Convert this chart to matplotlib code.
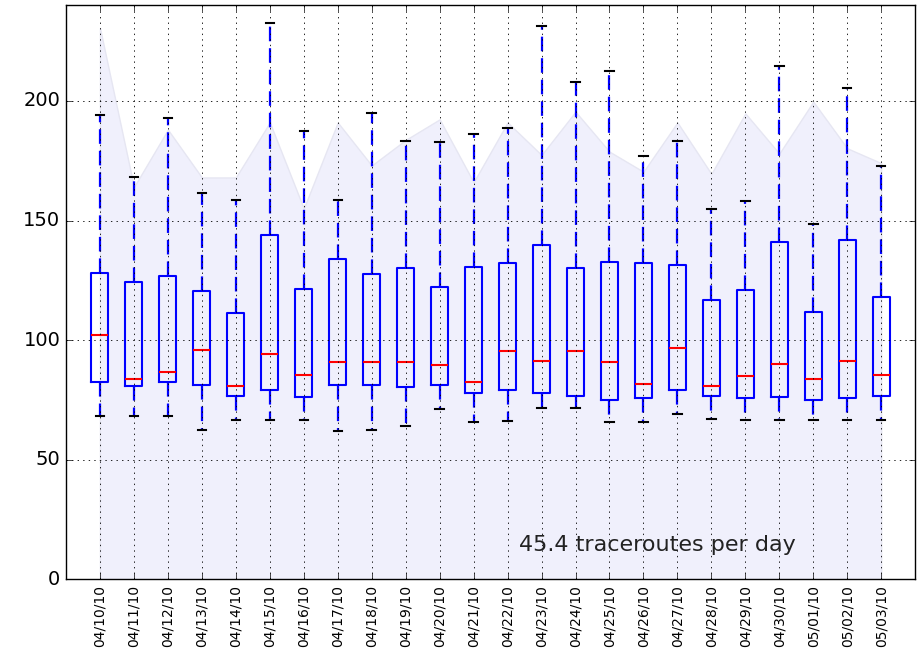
import matplotlib
matplotlib.use('Agg')
import matplotlib.pyplot as plt

plt.style.use('classic')

# Dias (rotulos do eixo x)
dias = ['04/10/10', '04/11/10', '04/12/10', '04/13/10', '04/14/10', '04/15/10',
        '04/16/10', '04/17/10', '04/18/10', '04/19/10', '04/20/10', '04/21/10',
        '04/22/10', '04/23/10', '04/24/10', '04/25/10', '04/26/10', '04/27/10',
        '04/28/10', '04/29/10', '04/30/10', '05/01/10', '05/02/10', '05/03/10']

# Estatisticas de cada caixa
whisker_low = [68.2, 68.2, 68.2, 62.6, 66.5, 66.5, 66.5, 61.9, 62.6, 63.9, 71.3, 65.6,
               66.0, 71.7, 71.7, 65.6, 65.6, 68.9, 67.2, 66.5, 66.5, 66.5, 66.5, 66.5]
q1 = [82.6, 80.8, 82.6, 81.2, 76.7, 79.0, 76.2, 81.2, 81.2, 80.2, 81.2, 77.8,
      79.2, 78.0, 76.7, 74.8, 75.9, 79.2, 76.8, 75.7, 76.2, 74.8, 75.7, 76.8]
medianas = [102.0, 83.7, 86.6, 95.7, 80.8, 94.0, 85.4, 90.7, 90.7, 90.7, 89.4, 82.6,
            95.3, 91.2, 95.3, 90.7, 81.5, 96.9, 80.8, 84.8, 90.1, 83.8, 91.2, 85.5]
q3 = [128.0, 124.4, 127.0, 120.4, 111.2, 143.8, 121.5, 134.0, 127.6, 130.0, 122.0, 130.7,
      132.3, 139.7, 130.0, 132.8, 132.3, 131.2, 116.7, 120.8, 140.9, 111.7, 142.0, 118.1]
whisker_high = [194.0, 168.0, 193.0, 161.6, 158.6, 232.5, 187.4, 158.6, 195.0, 183.4, 182.7, 186.0,
                188.6, 231.5, 208.0, 212.5, 177.0, 183.4, 154.7, 158.2, 214.8, 148.5, 205.6, 173.0]

# Area de fundo
area = [230.5, 164, 188, 168, 168, 191, 155, 191, 173, 183.7, 192.3, 166,
        191, 177.4, 195.5, 178.8, 170.4, 191, 169.5, 194.8, 178, 199.7, 180.2, 174]

texto = '45.4 traceroutes per day'


def main():
    fig = plt.figure(figsize=(9.17, 6.59), dpi=100, facecolor='white')
    ax = fig.add_axes([0.072, 0.121, 0.926, 0.871])

    posicoes = list(range(1, len(dias) + 1))

    ax.fill_between(posicoes, 0, area, facecolor='#f0f0fc', edgecolor='#e6e6f2',
                    linewidth=1.0, zorder=1)

    stats = []
    for i in range(len(dias)):
        stats.append({'whislo': whisker_low[i], 'q1': q1[i], 'med': medianas[i],
                      'q3': q3[i], 'whishi': whisker_high[i], 'fliers': []})

    caixas = ax.bxp(stats, positions=posicoes, widths=0.5, showfliers=False,
                    boxprops={'color': 'blue', 'linewidth': 1.5},
                    whiskerprops={'color': 'blue', 'linewidth': 1.6},
                    capprops={'color': 'black', 'linewidth': 1.5},
                    medianprops={'color': 'red', 'linewidth': 1.5})
    # tracejado mais longo, como no original
    for w in caixas['whiskers']:
        w.set_dashes((10.5, 5))

    ax.set_xlim(0, 25)
    ax.set_ylim(0, 240)
    ax.set_yticks([0, 50, 100, 150, 200])
    ax.set_xticks(posicoes)
    ax.set_xticklabels(dias, rotation=90, fontsize=10)
    ax.tick_params(axis='y', labelsize=14)
    ax.grid(True, linestyle=':', color='black', linewidth=0.6)
    ax.set_axisbelow(False)

    ax.text(13.35, 11.7, texto, fontsize=16, color='#222222')

    plt.savefig('out.png', dpi=100, facecolor='white')


if __name__ == '__main__':
    main()
